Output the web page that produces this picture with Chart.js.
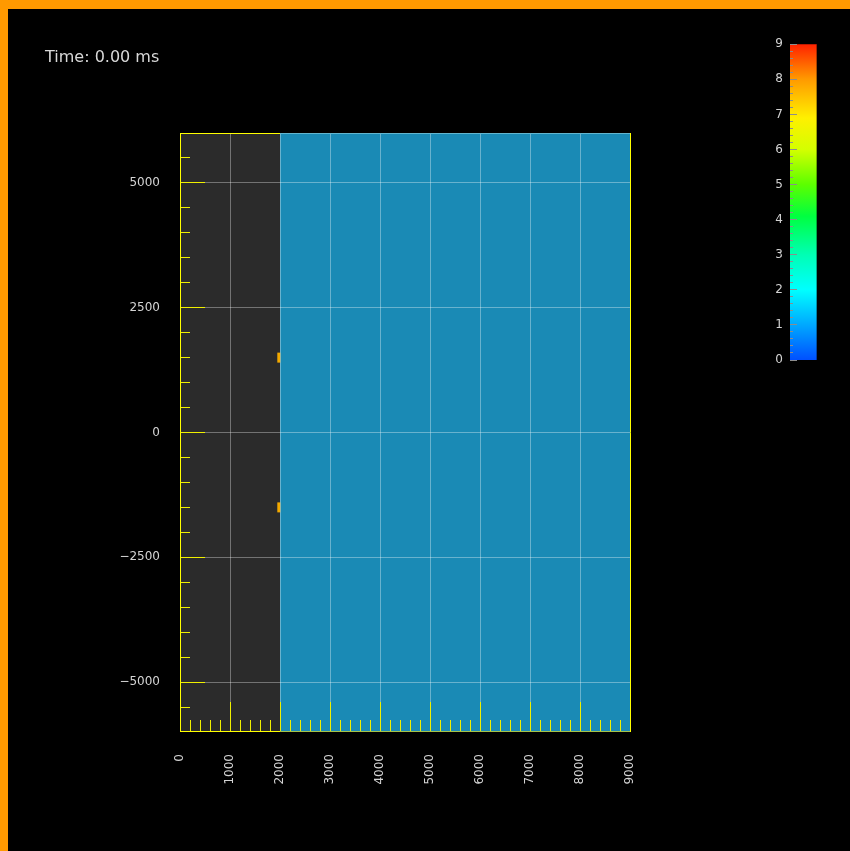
<!DOCTYPE html>
<html>
<head>
<meta charset="utf-8">
<script src="https://cdn.jsdelivr.net/npm/chart.js@4.4.1/dist/chart.umd.min.js"></script>
<style>
  html, body { margin: 0; padding: 0; background: #000; width: 850px; height: 851px; overflow: hidden; }
  #main { position: absolute; left: 0; top: 0; }
  #cbar { position: absolute; left: 740px; top: 30px; }
  #edgeL { position: absolute; left: 0; top: 0; width: 8px; height: 851px; background: #ff9900; }
  #edgeT { position: absolute; left: 0; top: 0; width: 850px; height: 9px; background: #ff9900; }
  #time { position: absolute; left: 45px; top: 49px; font: 16px/16px "DejaVu Sans", sans-serif; color: #d8d8d8; white-space: pre; }
</style>
</head>
<body>
<canvas id="main" width="850" height="851"></canvas>
<canvas id="cbar" width="100" height="345"></canvas>
<div id="edgeL"></div>
<div id="edgeT"></div>
<div id="time">Time: 0.00 ms</div>
<script>
// ---- domain and axes ----
const xLimits = [0, 9000];
const yLimits = [-6000, 6000];
const xTicks = [0, 1000, 2000, 3000, 4000, 5000, 6000, 7000, 8000, 9000];
const yTicks = [-5000, -2500, 0, 2500, 5000];
const xMinorStep = 200;
const yMinorStep = 500;

// ---- material zones along x ----
const zoneFrom = [0, 2000];
const zoneTo = [2000, 9000];

// ---- source elements (x and y extents) ----
const srcX0 = [1946, 1946];
const srcX1 = [2006, 2006];
const srcY0 = [1400, -1600];
const srcY1 = [1600, -1400];

// ---- colour scale ----
const cbTicks = [0, 1, 2, 3, 4, 5, 6, 7, 8, 9];
const cbStops = [0, 1, 2, 3, 4.1, 5, 6, 6.9, 8, 9];
const cbColors = ['#0050ff', '#00a8ff', '#00ffff', '#00ffb4', '#00ff40', '#5cff00', '#d4ff00', '#fff000', '#ff9a00', '#ff2200'];
const cbMinorStep = 0.2;

// ---- styles ----
const zoneFill = ['#2b2b2b', '#1a8ab5'];
const zoneTopEdge = ['#ffff00', '#62b6cf'];
const zoneBottomEdge = ['#ffff00', '#a4c248'];
const srcColor = '#f2a900';
const frameColor = '#ffff00';
const tickColor = '#f0f000';
const labelColor = '#d4d4d4';
const font = { family: 'DejaVu Sans', size: 12 };

const fmt = v => (v < 0 ? '\u2212' + Math.abs(v) : String(v));
const isMajor = (v, list) => list.some(t => Math.abs(t - v) < 1e-6);
// same half-pixel alignment Chart.js uses for 1px grid lines
const align = p => Math.round(p - 0.5) + 0.5;

const fieldPlugin = {
  id: 'field',
  beforeDraw(chart) {
    const { ctx, chartArea: a, scales: { x, y } } = chart;
    ctx.save();
    zoneFrom.forEach((x0, i) => {
      const p0 = x.getPixelForValue(x0), p1 = x.getPixelForValue(zoneTo[i]);
      ctx.fillStyle = zoneFill[i];
      ctx.fillRect(p0, a.top, p1 - p0, a.bottom - a.top);
    });
    ctx.fillStyle = srcColor;
    srcX0.forEach((x0, i) => {
      const px0 = x.getPixelForValue(x0), px1 = x.getPixelForValue(srcX1[i]);
      const py0 = y.getPixelForValue(srcY1[i]), py1 = y.getPixelForValue(srcY0[i]);
      ctx.fillRect(px0, py0, px1 - px0, py1 - py0);
    });
    ctx.restore();
  },
  afterDraw(chart) {
    const { ctx, chartArea: a, scales: { x, y } } = chart;
    ctx.save();
    ctx.lineWidth = 1;
    ctx.strokeStyle = tickColor;
    // ticks along the left edge, pointing inward
    for (let v = yLimits[0] + yMinorStep; v < yLimits[1]; v += yMinorStep) {
      const py = align(y.getPixelForValue(v));
      const len = isMajor(v, yTicks) ? 25 : 10;
      ctx.beginPath(); ctx.moveTo(a.left, py); ctx.lineTo(a.left + len, py); ctx.stroke();
    }
    // ticks along the bottom edge, pointing up
    for (let v = xLimits[0] + xMinorStep; v < xLimits[1]; v += xMinorStep) {
      const px = align(x.getPixelForValue(v));
      const len = isMajor(v, xTicks) ? 30 : 12;
      ctx.beginPath(); ctx.moveTo(px, a.bottom); ctx.lineTo(px, a.bottom - len); ctx.stroke();
    }
    // frame
    const L = Math.round(a.left) + 0.5, R = Math.round(a.right) + 0.5;
    const T = Math.round(a.top) + 0.5, B = Math.round(a.bottom) - 0.5;
    zoneFrom.forEach((x0, i) => {
      const p0 = x.getPixelForValue(x0), p1 = x.getPixelForValue(zoneTo[i]);
      ctx.strokeStyle = zoneTopEdge[i];
      ctx.beginPath(); ctx.moveTo(p0, T); ctx.lineTo(p1, T); ctx.stroke();
      ctx.strokeStyle = zoneBottomEdge[i];
      ctx.beginPath(); ctx.moveTo(p0, B); ctx.lineTo(p1, B); ctx.stroke();
    });
    ctx.strokeStyle = frameColor;
    ctx.beginPath(); ctx.moveTo(L, a.top); ctx.lineTo(L, a.bottom); ctx.stroke();
    ctx.beginPath(); ctx.moveTo(R, a.top); ctx.lineTo(R, a.bottom); ctx.stroke();
    ctx.restore();
  }
};

new Chart(document.getElementById('main'), {
  type: 'scatter',
  data: { datasets: [{ data: [], showLine: false }] },
  options: {
    responsive: false,
    animation: false,
    layout: { padding: { left: 120, right: 220, top: 133, bottom: 59 } },
    plugins: { legend: { display: false }, tooltip: { enabled: false } },
    scales: {
      x: {
        type: 'linear', min: xLimits[0], max: xLimits[1],
        afterBuildTicks: s => { s.ticks = xTicks.map(v => ({ value: v })); },
        afterFit: s => { s.height = 60; },
        grid: { color: 'rgba(255,255,255,0.34)', drawTicks: false },
        border: { display: false },
        ticks: { autoSkip: false, minRotation: 90, maxRotation: 90, padding: 22, color: labelColor, font, callback: v => fmt(v) }
      },
      y: {
        type: 'linear', min: yLimits[0], max: yLimits[1],
        afterBuildTicks: s => { s.ticks = yTicks.map(v => ({ value: v })); },
        afterFit: s => { s.width = 60; },
        grid: { color: 'rgba(255,255,255,0.34)', drawTicks: false },
        border: { display: false },
        ticks: { padding: 20, color: labelColor, font, callback: v => fmt(v) }
      }
    }
  },
  plugins: [fieldPlugin]
});

const cbTickPlugin = {
  id: 'cbTicks',
  afterDatasetsDraw(chart) {
    const { ctx, chartArea: a, scales: { y } } = chart;
    ctx.save();
    ctx.strokeStyle = '#8c8c8c';
    ctx.lineWidth = 1;
    const lo = cbTicks[0], hi = cbTicks[cbTicks.length - 1];
    for (let v = lo; v <= hi + 1e-6; v += cbMinorStep) {
      const py = align(y.getPixelForValue(v));
      const len = isMajor(v, cbTicks) ? 7 : 3;
      ctx.beginPath(); ctx.moveTo(a.left, py); ctx.lineTo(a.left + len, py); ctx.stroke();
    }
    ctx.strokeStyle = 'rgba(0,0,0,0.35)';
    ctx.beginPath(); ctx.moveTo(Math.round(a.right) - 0.5, a.top); ctx.lineTo(Math.round(a.right) - 0.5, a.bottom); ctx.stroke();
    ctx.restore();
  }
};

new Chart(document.getElementById('cbar'), {
  type: 'bar',
  data: {
    labels: [''],
    datasets: [{
      data: [[cbTicks[0], cbTicks[cbTicks.length - 1]]],
      barPercentage: 1,
      categoryPercentage: 1,
      borderWidth: 0,
      backgroundColor: c => {
        const ch = c.chart, ys = ch.scales.y;
        if (!ch.chartArea || !ys) return cbColors[0];
        const lo = cbTicks[0], hi = cbTicks[cbTicks.length - 1];
        const g = ch.ctx.createLinearGradient(0, ys.getPixelForValue(lo), 0, ys.getPixelForValue(hi));
        cbStops.forEach((v, i) => g.addColorStop((v - lo) / (hi - lo), cbColors[i]));
        return g;
      }
    }]
  },
  options: {
    responsive: false,
    animation: false,
    layout: { padding: { left: 30, right: 23, top: 12, bottom: 15 } },
    plugins: { legend: { display: false }, tooltip: { enabled: false } },
    scales: {
      x: { display: false },
      y: {
        min: cbTicks[0], max: cbTicks[cbTicks.length - 1],
        afterBuildTicks: s => { s.ticks = cbTicks.map(v => ({ value: v })); },
        afterFit: s => { s.width = 20; },
        grid: { display: false, drawTicks: false },
        border: { display: false },
        ticks: { padding: 7, color: labelColor, font }
      }
    }
  },
  plugins: [cbTickPlugin]
});
</script>
</body>
</html>
